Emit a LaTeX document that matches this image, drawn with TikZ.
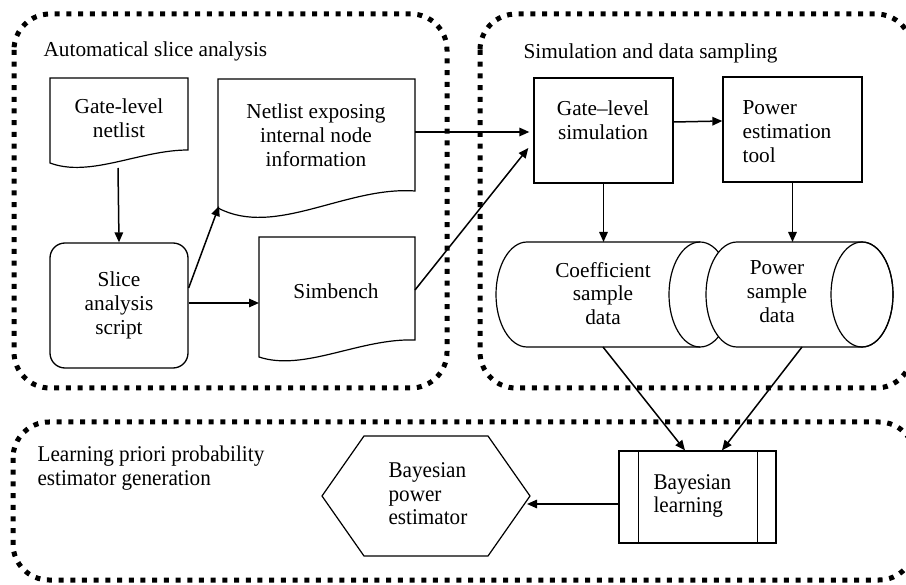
\documentclass[tikz,border=0pt]{standalone}
\usepackage{fontspec}
\setmainfont{Liberation Serif}
\newfontfamily\condfont[FakeStretch=0.94]{Liberation Serif}
\usetikzlibrary{arrows.meta}
\begin{document}
\begin{tikzpicture}[x=1pt,y=-1pt,
  line width=1.2pt,
  grp/.style={line width=5pt, dash pattern=on 5pt off 6.7pt, rounded corners=36pt},
  txt/.style={font=\fontsize{21.3}{23.8}\selectfont, align=center, inner sep=0pt},
  ltxt/.style={font=\fontsize{21.3}{23.8}\selectfont, align=left, inner sep=0pt},
  btxt/.style={font=\condfont\fontsize{22.5}{23.5}\selectfont, align=left, inner sep=0pt},
  box/.style={draw, line width=1.3pt, inner sep=0pt},
  arr/.style={-{Triangle[length=10pt,width=8.5pt]}, line width=1.5pt},
]
\useasboundingbox (0,0) rectangle (906,585);

% group frames
\draw[grp] (14,14) rectangle (447,388);
\draw[grp] (480,14) rectangle (912,388);
\draw[grp] (13,422) rectangle (915,580);

% titles
\node[txt, anchor=base west] (t1) at (43,57) {Automatical slice analysis};
\node[txt, anchor=base west] (t2) at (523,59) {Simulation and data sampling};
\node[btxt, anchor=west] (t3) at (37,468) {Learning priori probability\\estimator generation};

% documents
\draw (50,78) -- (188,78) -- (188,150) .. controls (140,150) and (90,178) .. (50,163) -- cycle;
\node[txt] (gln) at (119,118) {Gate-level\\netlist};
\coordinate (gln-b) at (118,168);

\draw (218,79) -- (415,79) -- (415,191) .. controls (346,186) and (275,238) .. (218,208) -- cycle;
\node[txt] (nei) at (316,135) {Netlist exposing\\internal node\\information};
\coordinate (nei-bl) at (219,206);
\coordinate (nei-r) at (415,132);

\draw (259,237) -- (415,237) -- (415,340) .. controls (360,338) and (304,372) .. (259,357) -- cycle;
\node[txt] (sim) at (336,291) {Simbench};
\coordinate (sim-r) at (415,290);
\coordinate (sim-l) at (259,303);

% slice analysis script
\node[box, txt, rounded corners=15pt, minimum width=138pt, minimum height=125pt] (slice) at (119,305.5) {Slice\\analysis\\script};

% simulation boxes
\node[box, minimum width=139pt, minimum height=105pt] (gls) at (603.5,130.5) {};
\node[txt] (glst) at (603,120.5) {Gate–level\\simulation};
\node[box, minimum width=139pt, minimum height=105pt] (pet) at (792.5,129.5) {};
\node[ltxt, anchor=west] (pett) at (742,131.5) {Power\\estimation\\tool};

% cylinders
\draw (700,242) -- (527,242) arc[start angle=90, end angle=270, x radius=31pt, y radius=52.5pt] -- (700,347);
\draw (700,294.5) ellipse [x radius=31pt, y radius=52.5pt];
\filldraw[fill=white] (862,242) -- (737,242) arc[start angle=90, end angle=270, x radius=31pt, y radius=52.5pt] -- (862,347) arc[start angle=-90, end angle=90, x radius=31pt, y radius=52.5pt];
\draw (862,294.5) ellipse [x radius=31pt, y radius=52.5pt];
\node[txt] (cyl1) at (603,293.5) {Coefficient\\sample\\data};
\node[txt] (cyl2) at (777,291.5) {Power\\sample\\data};
\coordinate (cyl1-t) at (603.5,242);
\coordinate (cyl1-b) at (603,347);
\coordinate (cyl2-t) at (792.5,242);
\coordinate (cyl2-b) at (802,347);

% bottom
\draw (322,496) -- (364,436) -- (488,436) -- (530,496) -- (488,556) -- (364,556) -- cycle;
\node[btxt, anchor=west] (hex) at (388,494) {Bayesian\\power\\estimator};
\coordinate (hex-e) at (527,504);

\node[box, minimum width=157pt, minimum height=92pt] (bl) at (697.5,497) {};
\draw ([xshift=20pt]bl.north west) -- ([xshift=20pt]bl.south west);
\draw ([xshift=-19pt]bl.north east) -- ([xshift=-19pt]bl.south east);
\node[btxt, anchor=west] (blt) at (653,496) {Bayesian\\learning};

% connectors
\draw[arr] (gln-b) -- (slice.north);
\draw[arr] ([yshift=17.5pt]slice.east) -- (nei-bl);
\draw[arr] ([yshift=2.5pt]slice.east) -- (sim-l);
\draw[arr, shorten >=4pt] (nei-r) -- (nei-r -| gls.west);
\draw[arr] (sim-r) -- ([shift={(-5pt,-17.5pt)}]gls.west);
\draw[arr] ([yshift=8.5pt]gls.east) -- ([yshift=8.5pt]pet.west);
\draw[arr] (gls.south) -- (cyl1-t);
\draw[arr] (pet.south) -- (cyl2-t);
\draw[arr] (cyl1-b) -- ([xshift=-12.5pt]bl.north);
\draw[arr] (cyl2-b) -- ([xshift=24.5pt]bl.north);
\draw[arr] ([yshift=-7pt]bl.west) -- (hex-e);
\end{tikzpicture}
\end{document}
